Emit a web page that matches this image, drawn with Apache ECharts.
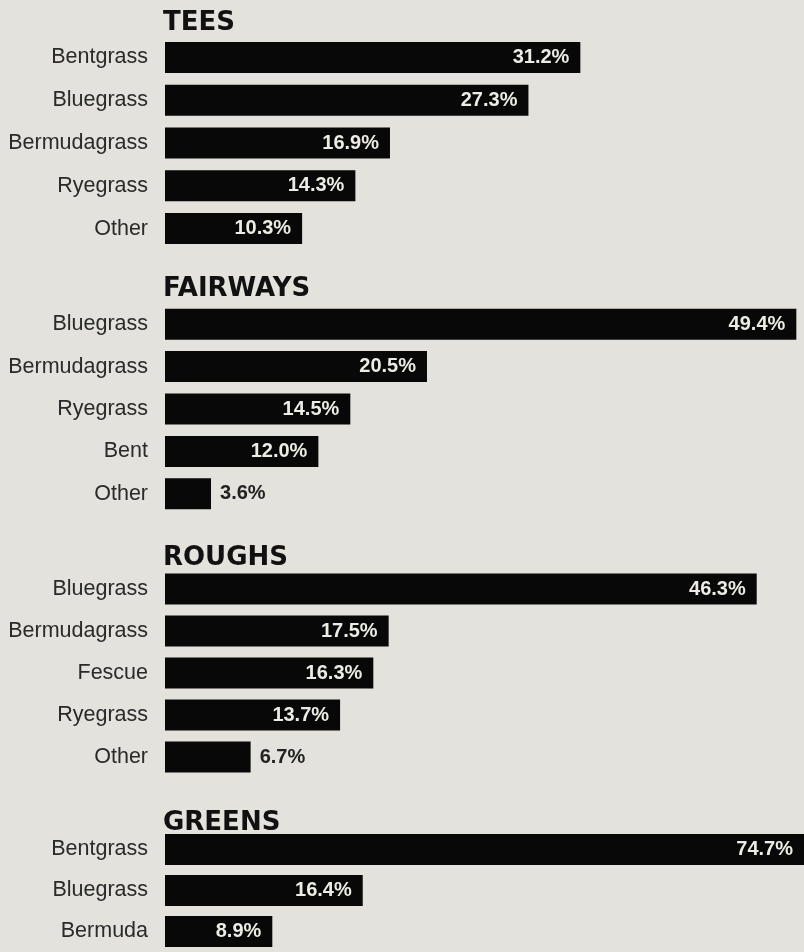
<!DOCTYPE html>
<html>
<head>
<meta charset="utf-8">
<script src="https://cdn.jsdelivr.net/npm/echarts@6/dist/echarts.min.js"></script>
<style>
  html, body { margin: 0; padding: 0; background: #e3e2dc; }
  #chart-container { width: 804px; height: 952px; }
</style>
</head>
<body>
<div id="chart-container"></div>
<script>
// 数据
const teesCats = ['Bentgrass', 'Bluegrass', 'Bermudagrass', 'Ryegrass', 'Other'];
const teesVals = [31.2, 27.3, 16.9, 14.3, 10.3];
const fairwaysCats = ['Bluegrass', 'Bermudagrass', 'Ryegrass', 'Bent', 'Other'];
const fairwaysVals = [49.4, 20.5, 14.5, 12.0, 3.6];
const roughsCats = ['Bluegrass', 'Bermudagrass', 'Fescue', 'Ryegrass', 'Other'];
const roughsVals = [46.3, 17.5, 16.3, 13.7, 6.7];
const greensCats = ['Bentgrass', 'Bluegrass', 'Bermuda'];
const greensVals = [74.7, 16.4, 8.9];

const panelTitles = ['TEES', 'FAIRWAYS', 'ROUGHS', 'GREENS'];
const panelCats = [teesCats, fairwaysCats, roughsCats, greensCats];
const panelVals = [teesVals, fairwaysVals, roughsVals, greensVals];

// 布局
const gridTops = [36, 303, 568, 829];
const gridHeights = [214, 212, 210, 132];
const titleTops = [5, 271, 540, 805];
const axisMax = [48, 50, 50, 53];

const chartOption = {
  backgroundColor: '#e3e2dc',
  animation: false,
  title: panelTitles.map((t, i) => ({
    text: t,
    left: 158,
    top: titleTops[i],
    textStyle: {
      fontFamily: 'DejaVu Sans',
      fontWeight: 'bold',
      fontSize: 26,
      color: '#111'
    }
  })),
  grid: gridTops.map((top, i) => ({
    left: 165,
    right: 0,
    top: top,
    height: gridHeights[i],
    containLabel: false
  })),
  xAxis: axisMax.map((m, i) => ({
    type: 'value',
    gridIndex: i,
    min: 0,
    max: m,
    show: false
  })),
  yAxis: panelCats.map((cats, i) => ({
    type: 'category',
    gridIndex: i,
    data: cats,
    inverse: true,
    axisLine: { show: false },
    axisTick: { show: false },
    splitLine: { show: false },
    axisLabel: {
      margin: 17,
      fontFamily: 'Liberation Sans',
      fontSize: 21.5,
      color: '#2a2a2a',
      padding: [5, 0, 0, 0]
    }
  })),
  series: panelVals.map((vals, i) => ({
    type: 'bar',
    xAxisIndex: i,
    yAxisIndex: i,
    barWidth: 31,
    clip: true,
    itemStyle: { color: '#080808' },
    label: {
      show: true,
      position: 'insideRight',
      distance: 11,
      fontFamily: 'Liberation Sans',
      fontWeight: 'bold',
      fontSize: 20,
      color: '#ecebe4',
      formatter: p => p.value.toFixed(1) + '%'
    },
    data: vals.map(v => v < 8
      ? { value: v, label: { position: 'right', distance: 9, color: '#222' } }
      : v)
  }))
};

const chart = echarts.init(document.getElementById('chart-container'));
chart.setOption(chartOption);
</script>
</body>
</html>
